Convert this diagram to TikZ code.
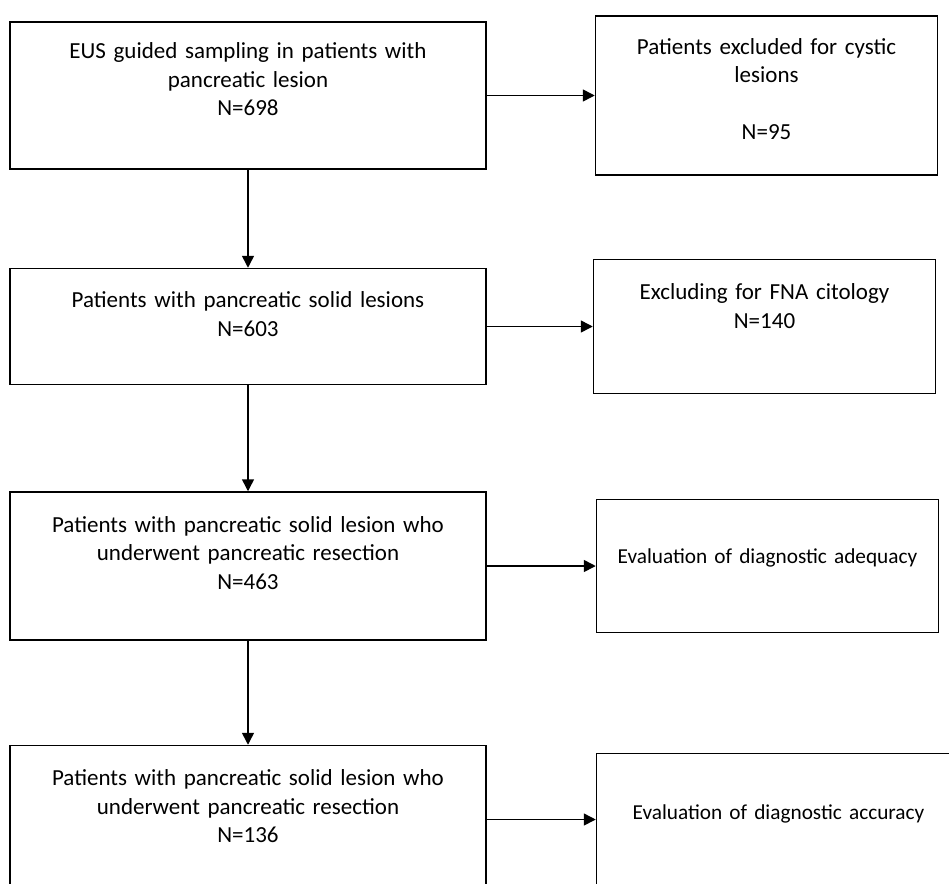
\documentclass[tikz,border=0pt]{standalone}
\usepackage{fontspec}
\setmainfont{Carlito}
\usetikzlibrary{arrows.meta, positioning}

\begin{document}
\begin{tikzpicture}[x=1pt, y=1pt, node distance=104pt and 108pt,
    every node/.style={font=\fontsize{23}{28.5}\selectfont},
    patbox/.style={draw, line width=1.5pt, text width=476pt, inner sep=0pt, align=center, text height=40pt, text depth=108pt},
    outbox/.style={draw, line width=1.5pt, text width=342pt, inner sep=0pt, align=center},
    evalbox/.style={outbox, font=\fontsize{21.3}{28.5}\selectfont},
    flow/.style={-{Triangle[length=12pt, width=12pt]}, line width=1.5pt}]
    \useasboundingbox (0,0) rectangle (949,-883);

    % Patients left at each stage
    \node (pat1) [patbox, text height=37pt, text depth=110pt] at (248,-95.5) {EUS guided sampling in patients with\\pancreatic lesion\\N=698};
    \node (pat2) [patbox, below=98pt of pat1, text height=39pt, text depth=77pt] {Patients with pancreatic solid lesions\\N=603};
    \node (pat3) [patbox, below=106pt of pat2] {Patients with pancreatic solid lesion who\\underwent pancreatic resection\\N=463};
    \node (pat4) [patbox, below=of pat3] {Patients with pancreatic solid lesion who\\underwent pancreatic resection\\N=136};

    % Exclusions and evaluations
    \node (out1) [outbox, right=of pat1, text height=38pt, text depth=121pt] {Patients excluded for cystic\\lesions\\[28.5pt]N=95};
    \node (out2) [outbox, right=106pt of pat2, text height=40pt, text depth=94pt] {Excluding for FNA citology\\N=140};
    \node (out3) [evalbox, right=109pt of pat3, text height=64pt, text depth=69pt] {Evaluation of diagnostic adequacy};
    \node (out4) [evalbox, right=109pt of pat4, text width=364pt, text height=66pt, text depth=66pt] {Evaluation of diagnostic accuracy};

    % Arrows
    \draw[flow] (pat1) -- (pat2);
    \draw[flow] (pat2) -- (pat3);
    \draw[flow] (pat3) -- (pat4);
    \draw[flow] (pat1) -- (out1);
    \draw[flow] (pat2) -- (out2);
    \draw[flow] (pat3) -- (out3);
    \draw[flow] (pat4) -- (out4);
\end{tikzpicture}
\end{document}
